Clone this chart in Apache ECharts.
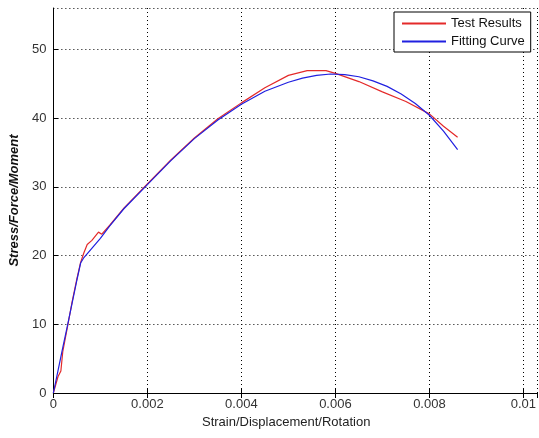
<!DOCTYPE html>
<html>
<head>
<meta charset="utf-8">
<script src="https://cdn.jsdelivr.net/npm/echarts@6/dist/echarts.min.js"></script>
<style>
  html, body { margin: 0; padding: 0; background: #fff; }
  #chart { width: 539px; height: 438px; }
</style>
</head>
<body>
<div id="chart"></div>
<script>
const testX = [0, 0.00005, 0.0001, 0.00013, 0.00016, 0.0002, 0.0003, 0.0004, 0.0005, 0.00058, 0.00065,
  0.00072, 0.00082, 0.00096, 0.00103, 0.0012, 0.0015, 0.002, 0.0025, 0.003, 0.0035, 0.004, 0.0045,
  0.005, 0.0054, 0.0058, 0.006, 0.0065, 0.007, 0.0075, 0.008, 0.0083, 0.0086]
const testY = [0, 1.2, 2.4, 2.8, 3.2, 6.0, 9.6, 13.3, 16.6, 19.0, 20.4,
  21.6, 22.2, 23.4, 23.1, 24.4, 26.9, 30.4, 33.9, 37.1, 39.9, 42.2, 44.4,
  46.2, 46.9, 46.9, 46.5, 45.3, 43.8, 42.4, 40.6, 38.8, 37.2]

const fitX = [0, 0.0001, 0.0002, 0.0003, 0.0004, 0.0005, 0.00058, 0.00065, 0.0008, 0.001, 0.0012,
  0.0015, 0.002, 0.0025, 0.003, 0.0035, 0.004, 0.0045, 0.005, 0.0053, 0.0056, 0.0059, 0.0062,
  0.0065, 0.0068, 0.0071, 0.0074, 0.0077, 0.008, 0.0083, 0.0086]
const fitY = [0, 3.3, 6.6, 9.8, 13.1, 16.4, 18.9, 19.7, 20.9, 22.5, 24.3,
  26.8, 30.3, 33.8, 37.0, 39.7, 42.0, 43.9, 45.2, 45.8, 46.2, 46.4, 46.3,
  46.0, 45.4, 44.6, 43.5, 42.1, 40.4, 38.1, 35.4]

const seriesNames = ['Test Results', 'Fitting Curve']
const xTitle = 'Strain/Displacement/Rotation'
const yTitle = 'Stress/Force/Moment'

const font = 'Liberation Sans, Arial, sans-serif'
const redLine = '#e42a2a'
const blueLine = '#2020e0'
const dotted = { show: true, lineStyle: { color: '#000', width: 1, type: [1, 3] } }
const tick = { show: true, inside: true, length: 5, lineStyle: { color: '#000' } }

function pairs(xs, ys) {
  return xs.map((x, i) => [x, ys[i]])
}

const chart = echarts.init(document.getElementById('chart'), null, { renderer: 'canvas' })
chart.setOption({
  backgroundColor: '#ffffff',
  animation: false,
  title: {
    text: xTitle,
    left: 202,
    top: 416,
    padding: 0,
    textStyle: { fontFamily: font, fontSize: 13, fontWeight: 'normal', color: '#222' }
  },
  grid: {
    left: 51,
    top: 8,
    right: 0,
    bottom: 45,
    show: false
  },
  legend: {
    data: [
      { name: seriesNames[0], itemStyle: { color: redLine } },
      { name: seriesNames[1], itemStyle: { color: blueLine } }
    ],
    orient: 'vertical',
    left: 394,
    top: 12,
    padding: [5, 6, 4, 8],
    itemGap: 5,
    itemWidth: 44,
    itemHeight: 2,
    icon: 'rect',
    backgroundColor: '#fff',
    borderColor: '#000',
    borderWidth: 1,
    borderRadius: 0,
    textStyle: { fontFamily: font, fontSize: 13, color: '#111' }
  },
  xAxis: [
    {
      type: 'value',
      min: 0,
      max: 0.0103,
      interval: 0.002,
      axisLine: { show: true, onZero: false, lineStyle: { color: '#000' } },
      axisTick: tick,
      axisLabel: {
        showMaxLabel: false,
        margin: 5,
        fontFamily: font,
        fontSize: 13,
        color: '#333',
        formatter: v => String(+v.toFixed(4))
      },
      splitLine: dotted
    },
    {
      type: 'value',
      position: 'top',
      min: 0,
      max: 0.0103,
      interval: 0.002,
      axisLine: { show: true, lineStyle: { color: '#000' } },
      axisTick: tick,
      axisLabel: { show: false },
      splitLine: { show: false }
    }
  ],
  yAxis: {
    type: 'value',
    min: 0,
    max: 56,
    interval: 10,
    name: yTitle,
    nameLocation: 'middle',
    nameGap: 32,
    nameTextStyle: { fontFamily: font, fontSize: 13, fontWeight: 'bold', fontStyle: 'italic', color: '#111' },
    axisLine: { show: true, lineStyle: { color: '#000' } },
    axisTick: tick,
    axisLabel: { showMaxLabel: false, margin: 7, fontFamily: font, fontSize: 13, color: '#333' },
    splitLine: dotted
  },
  series: [
    {
      name: seriesNames[0],
      type: 'line',
      data: pairs(testX, testY),
      symbol: 'none',
      lineStyle: { color: redLine, width: 1.2 },
      itemStyle: { color: redLine },
      z: 3
    },
    {
      name: seriesNames[1],
      type: 'line',
      data: pairs(fitX, fitY),
      symbol: 'none',
      lineStyle: { color: blueLine, width: 1.2 },
      itemStyle: { color: blueLine },
      z: 4
    }
  ]
})
</script>
</body>
</html>
